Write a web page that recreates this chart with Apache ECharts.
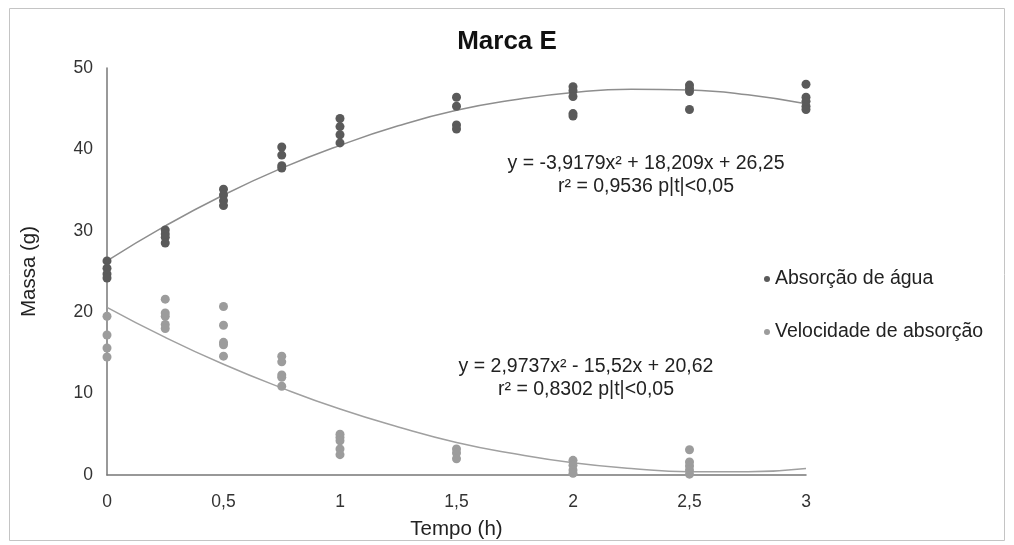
<!DOCTYPE html>
<html lang="pt">
<head>
<meta charset="utf-8">
<title>Marca E</title>
<script src="https://cdn.jsdelivr.net/npm/echarts@6/dist/echarts.min.js"></script>
<style>
    html, body { margin: 0; padding: 0; background: #fff; }
    #chart { width: 1014px; height: 545px; }
</style>
</head>
<body>
<div id="chart"></div>
<script>
// Данные
const tempos = [0, 0.25, 0.5, 0.75, 1, 1.5, 2, 2.5, 3];
const absorcaoAgua = [
    [26.3, 25.4, 24.7, 24.2],
    [30.1, 29.6, 29.2, 28.5],
    [35.1, 34.4, 33.7, 33.1],
    [40.3, 39.3, 38.0, 37.7],
    [43.8, 42.8, 41.8, 40.8],
    [46.4, 45.3, 43.0, 42.5],
    [47.7, 47.2, 46.5, 44.4, 44.1],
    [47.9, 47.5, 47.1, 44.9],
    [48.0, 46.4, 45.9, 45.3, 44.9]
];
const velocidadeAbsorcao = [
    [19.5, 17.2, 15.6, 14.5],
    [21.6, 19.9, 19.5, 18.5, 18.0],
    [20.7, 18.4, 16.3, 16.0, 14.6],
    [14.6, 13.9, 12.3, 12.0, 10.9],
    [5.0, 4.6, 4.2, 3.2, 2.5],
    [3.2, 2.7, 2.0],
    [1.8, 1.2, 0.6, 0.2],
    [3.1, 1.6, 1.1, 0.6, 0.1],
    []
];

// Линии тренда (значения кривых)
const curvaTempo = [0, 0.25, 0.5, 0.75, 1, 1.25, 1.5, 1.75, 2, 2.25, 2.5, 2.75, 3];
const curvaAbsorcao = [26.3, 30.6, 34.4, 37.7, 40.5, 42.9, 44.8, 46.1, 47.0, 47.4, 47.3, 46.7, 45.6];
const curvaVelocidade = [20.6, 16.9, 13.6, 10.7, 8.1, 5.9, 4.0, 2.6, 1.5, 0.8, 0.4, 0.4, 0.8];

const xTickLabels = ['0', '0,5', '1', '1,5', '2', '2,5', '3'];
const yTickLabels = ['0', '10', '20', '30', '40', '50'];

const eqAbsorcao = 'y = -3,9179x² + 18,209x + 26,25\nr² = 0,9536 p|t|<0,05';
const eqVelocidade = 'y = 2,9737x² - 15,52x + 20,62\nr² = 0,8302 p|t|<0,05';

const FONT = '"Liberation Sans", Arial, sans-serif';

// Преобразование групп в пары [x, y]
function toPairs(groups) {
    const out = [];
    groups.forEach((vals, i) => {
        vals.forEach(v => out.push([tempos[i], v]));
    });
    return out;
}

function toLine(xs, ys) {
    return xs.map((x, i) => [x, ys[i]]);
}

const chart = echarts.init(document.getElementById('chart'));

const option = {
    backgroundColor: '#fff',
    animation: false,
    textStyle: { fontFamily: FONT },
    title: {
        text: 'Marca E',
        left: 'center',
        top: 24,
        textStyle: { fontSize: 26, fontWeight: 'bold', color: '#111', fontFamily: FONT }
    },
    grid: { left: 107, right: 208, top: 68, bottom: 69 },
    legend: {
        data: ['Absorção de água', 'Velocidade de absorção'],
        orient: 'vertical',
        left: 764,
        top: 269,
        padding: 0,
        itemGap: 33,
        itemWidth: 6,
        itemHeight: 6,
        icon: 'circle',
        textStyle: { fontSize: 19.5, color: '#222', fontFamily: FONT }
    },
    xAxis: {
        type: 'value',
        min: 0,
        max: 3,
        interval: 0.5,
        name: 'Tempo (h)',
        nameLocation: 'middle',
        nameGap: 44,
        nameTextStyle: { fontSize: 20.5, color: '#222' },
        axisLine: { show: true, lineStyle: { color: '#777', width: 1.5 } },
        axisTick: { show: false },
        splitLine: { show: false },
        axisLabel: {
            margin: 18,
            fontSize: 17.5,
            color: '#333',
            formatter: v => xTickLabels[Math.round(v / 0.5)]
        }
    },
    yAxis: {
        type: 'value',
        min: 0,
        max: 50,
        interval: 10,
        name: 'Massa (g)',
        nameLocation: 'middle',
        nameGap: 67,
        nameTextStyle: { fontSize: 20.5, color: '#222' },
        axisLine: { show: true, lineStyle: { color: '#777', width: 1.5 } },
        axisTick: { show: false },
        splitLine: { show: false },
        axisLabel: {
            margin: 14,
            fontSize: 17.5,
            color: '#333',
            formatter: v => yTickLabels[Math.round(v / 10)]
        }
    },
    series: [
        {
            name: 'Tendência absorção',
            type: 'line',
            data: toLine(curvaTempo, curvaAbsorcao),
            smooth: true,
            showSymbol: false,
            silent: true,
            z: 1,
            lineStyle: { color: '#8e8e8e', width: 1.5 }
        },
        {
            name: 'Tendência velocidade',
            type: 'line',
            data: toLine(curvaTempo, curvaVelocidade),
            smooth: true,
            showSymbol: false,
            silent: true,
            z: 1,
            lineStyle: { color: '#a0a0a0', width: 1.5 }
        },
        {
            name: 'Absorção de água',
            type: 'scatter',
            data: toPairs(absorcaoAgua),
            symbolSize: 9,
            z: 3,
            itemStyle: { color: '#5a5a5a', opacity: 1 }
        },
        {
            name: 'Velocidade de absorção',
            type: 'scatter',
            data: toPairs(velocidadeAbsorcao),
            symbolSize: 9,
            z: 3,
            itemStyle: { color: '#9c9c9c', opacity: 1 }
        }
    ],
    graphic: [
        {
            // Рамка вокруг рисунка
            type: 'rect',
            shape: { x: 9.5, y: 8.5, width: 995, height: 532 },
            style: { fill: 'none', stroke: '#c4c4c4', lineWidth: 1 },
            silent: true
        },
        {
            type: 'text',
            x: 646,
            y: 175,
            style: {
                text: eqAbsorcao,
                textAlign: 'center',
                textVerticalAlign: 'middle',
                fill: '#222',
                font: '19.5px ' + FONT,
                lineHeight: 23
            },
            silent: true
        },
        {
            type: 'text',
            x: 586,
            y: 378,
            style: {
                text: eqVelocidade,
                textAlign: 'center',
                textVerticalAlign: 'middle',
                fill: '#222',
                font: '19.5px ' + FONT,
                lineHeight: 23
            },
            silent: true
        }
    ]
};

chart.setOption(option);
</script>
</body>
</html>
